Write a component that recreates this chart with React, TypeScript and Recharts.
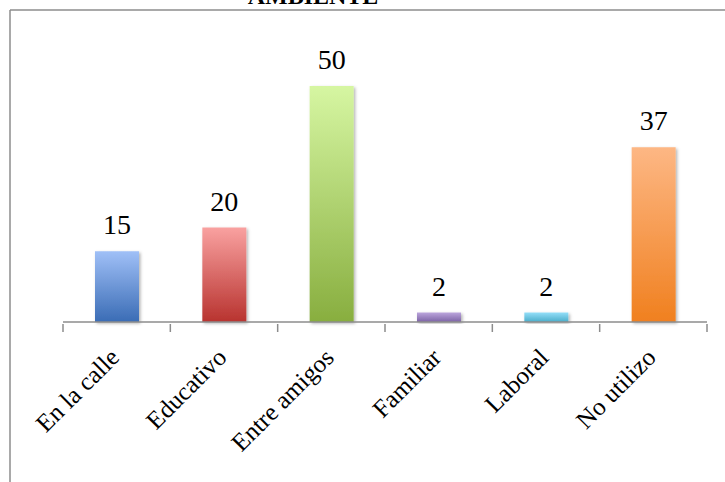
import React from "react";
import { BarChart, Bar, XAxis, YAxis, Cell, LabelList } from "recharts";

const categories = ["En la calle", "Educativo", "Entre amigos", "Familiar", "Laboral", "No utilizo"];
const values = [15, 20, 50, 2, 2, 37];
const topColors = ["#a0c0f7", "#f9a1a0", "#d6f6a2", "#bba5dc", "#93def8", "#fdb784"];
const bottomColors = ["#3a6cb5", "#b8332f", "#88ae3f", "#7c62a5", "#4aadca", "#f0801f"];
const title = "AMBIENTE";

const data = categories.map((name, i) => ({ name, value: values[i] }));

const W = 725;
const H = 482;
const LEFT = 63;
const RIGHT = 18;
const N = categories.length;
const HALF_BAND = (W - LEFT - RIGHT) / N / 2;
const SERIF = "Liberation Serif, Times New Roman, DejaVu Serif, serif";

const AxisTick = (props: any) => {
  const { x, y, payload, index } = props;
  const lx = x - HALF_BAND;
  const rx = x + HALF_BAND;
  const tx = x + 4;
  const ty = y + 27;
  return (
    <g>
      <line x1={lx} y1={y - 8} x2={lx} y2={y} stroke="#8c8c8c" strokeWidth={1.5} />
      {index === N - 1 && (
        <line x1={rx} y1={y - 8} x2={rx} y2={y} stroke="#8c8c8c" strokeWidth={1.5} />
      )}
      <text
        x={tx}
        y={ty}
        textAnchor="end"
        transform={`rotate(-45, ${tx}, ${ty})`}
        style={{ fontFamily: SERIF, fontSize: 25 }}
        fill="#000"
      >
        {payload.value}
      </text>
    </g>
  );
};

const ValueLabel = (props: any) => {
  const { x, y, width, value } = props;
  return (
    <text
      x={x + width / 2}
      y={y - 17}
      textAnchor="middle"
      style={{ fontFamily: SERIF, fontSize: 28 }}
      fill="#000"
    >
      {value}
    </text>
  );
};

export default function App() {
  return (
    <div style={{ position: "absolute", left: 0, top: 0, width: W, height: H, overflow: "hidden", background: "#fff" }}>
      <svg width={W} height={H} style={{ position: "absolute", left: 0, top: 0 }}>
        <line x1={10} y1={10} x2={W} y2={10} stroke="#8c8c8c" strokeWidth={1.5} />
        <line x1={10} y1={10} x2={10} y2={H} stroke="#8c8c8c" strokeWidth={1.5} />
        <text x={313} y={4} textAnchor="middle" style={{ fontFamily: SERIF, fontWeight: "bold", fontSize: 24 }} fill="#000">
          {title}
        </text>
      </svg>
      <div style={{ position: "absolute", left: 0, top: 0 }}>
        <BarChart width={W} height={H} data={data} margin={{ top: 86, right: RIGHT, left: LEFT, bottom: 0 }}>
          <defs>
            {categories.map((c, i) => (
              <linearGradient key={c} id={`grad${i}`} x1="0" y1="0" x2="0" y2="1">
                <stop offset="0%" stopColor={topColors[i]} />
                <stop offset="100%" stopColor={bottomColors[i]} />
              </linearGradient>
            ))}
            <filter id="shadow" x="-20%" y="-20%" width="140%" height="140%">
              <feDropShadow dx="1.5" dy="1.5" stdDeviation="1.5" floodColor="#000" floodOpacity="0.3" />
            </filter>
          </defs>
          <YAxis hide domain={[0, 50]} />
          <XAxis
            dataKey="name"
            height={160}
            interval={0}
            tickLine={false}
            tickSize={8}
            axisLine={{ stroke: "#8c8c8c", strokeWidth: 1.5 }}
            tick={<AxisTick />}
          />
          <Bar dataKey="value" barSize={44} isAnimationActive={false} filter="url(#shadow)">
            {data.map((d, i) => (
              <Cell key={d.name} fill={`url(#grad${i})`} />
            ))}
            <LabelList dataKey="value" content={<ValueLabel />} />
          </Bar>
        </BarChart>
      </div>
    </div>
  );
}
